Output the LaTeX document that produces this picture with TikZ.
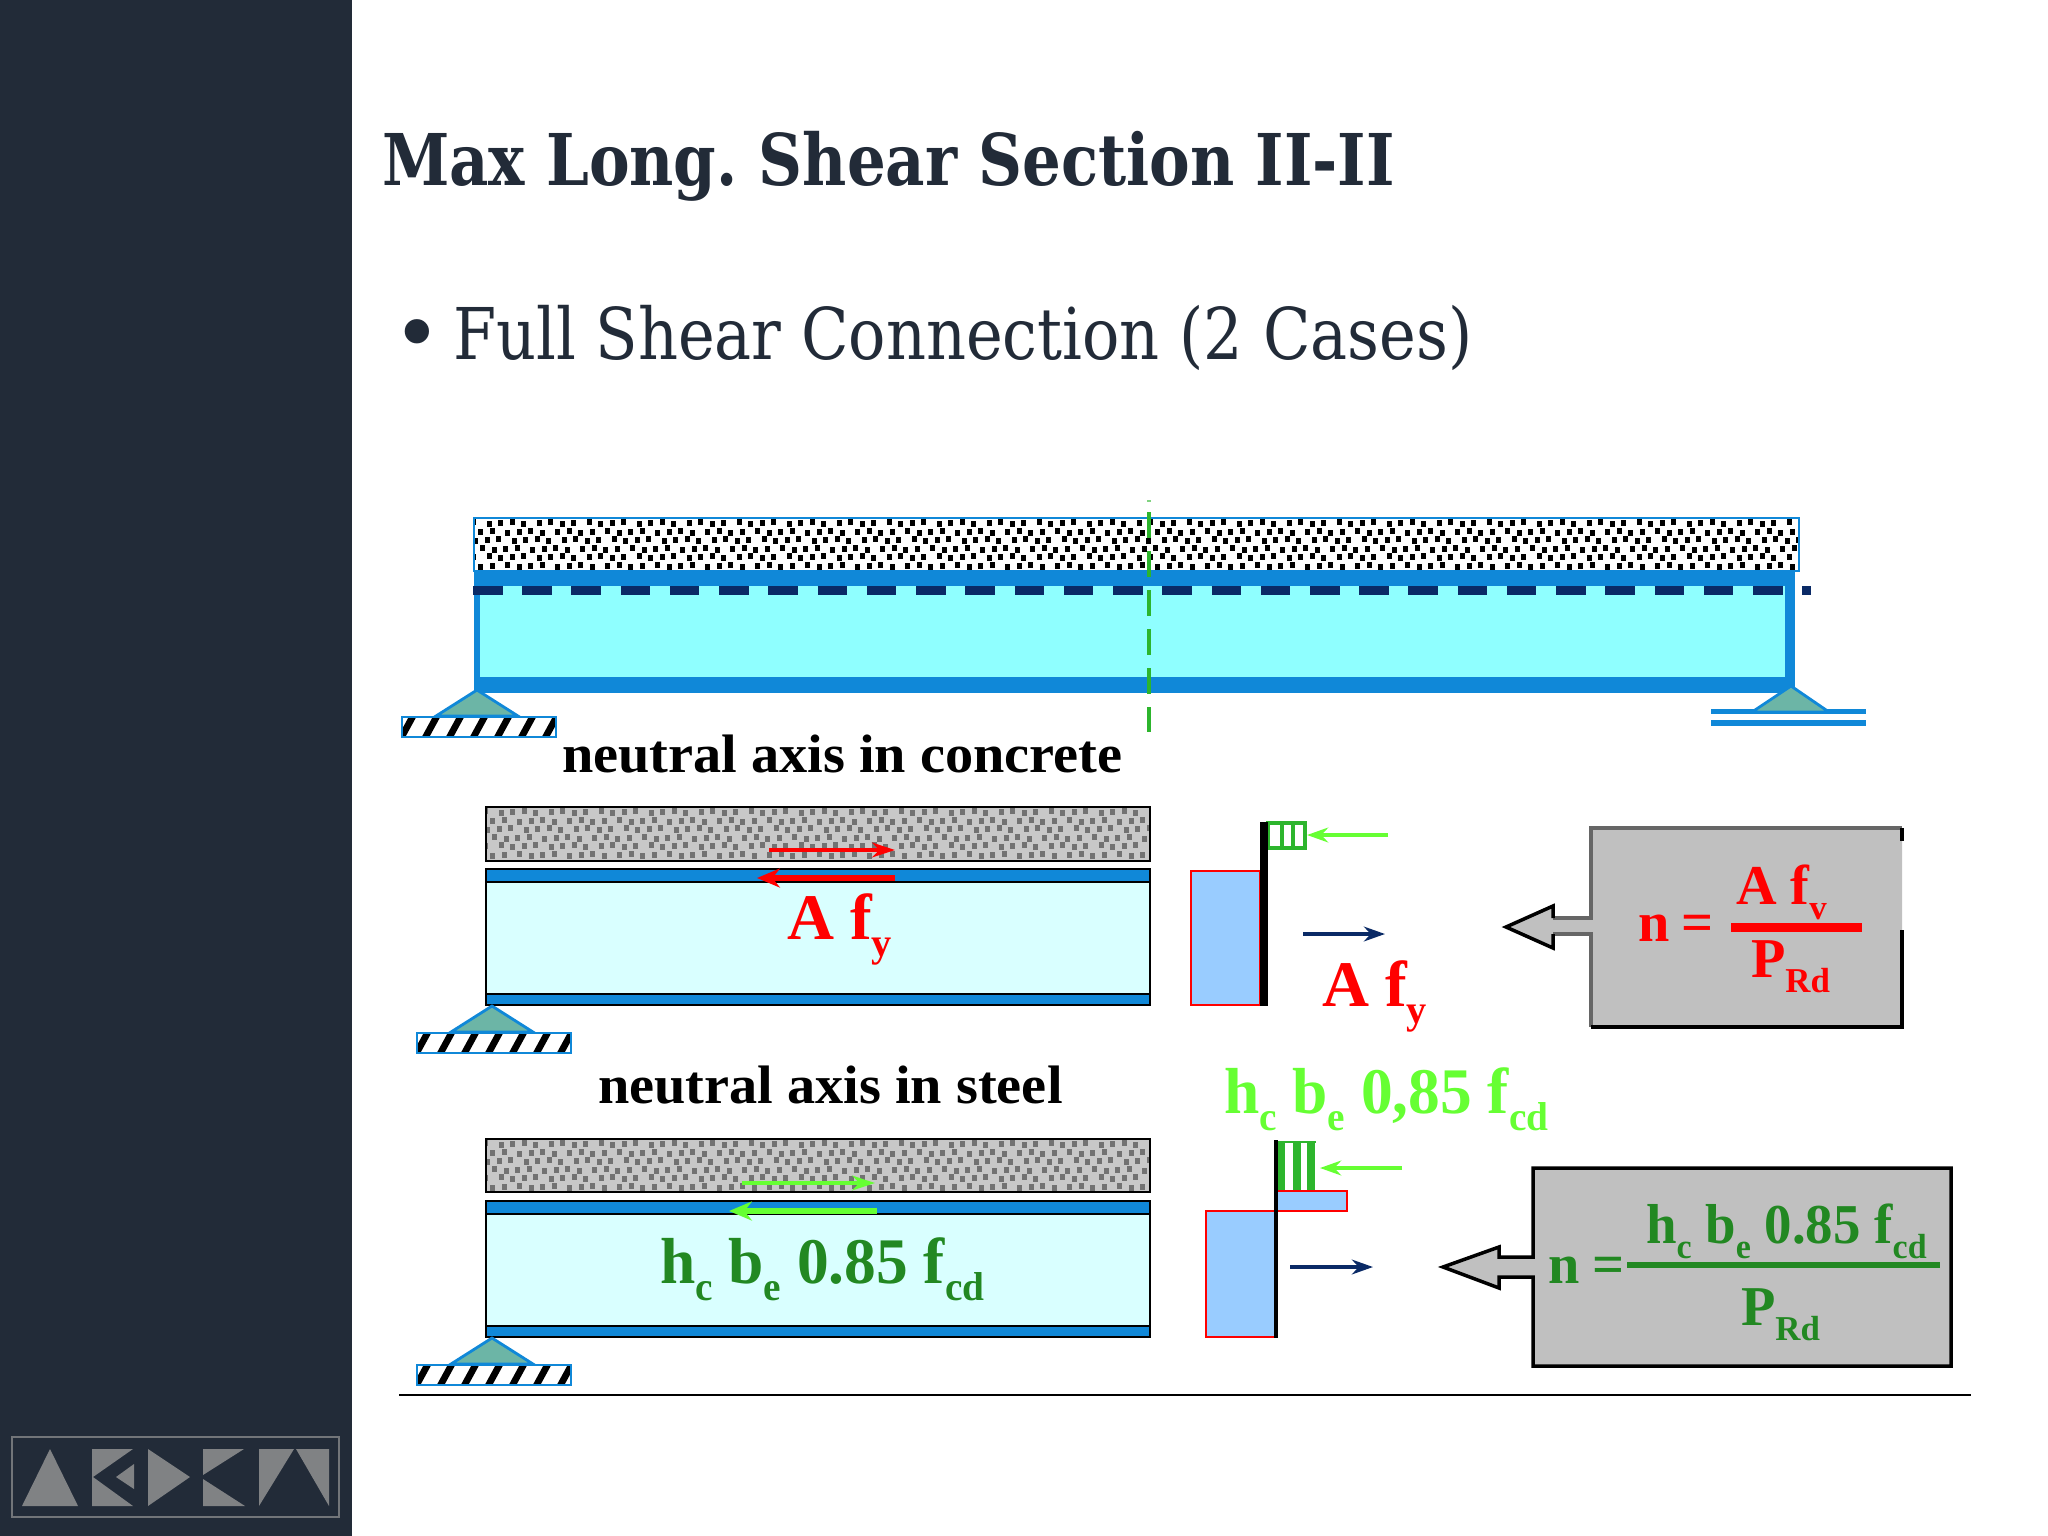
\documentclass[tikz,border=0pt]{standalone}
\usepackage{fontspec}
\usetikzlibrary{arrows.meta}
\setmainfont{Liberation Serif}
\newfontfamily\titlefont[FakeStretch=0.948]{DejaVu Serif Condensed}
\newfontfamily\casefont[FakeStretch=0.967]{DejaVu Serif Condensed}
\newfontfamily\capfont[FakeStretch=1.04]{Liberation Serif}
\newfontfamily\condfont[FakeStretch=0.975]{Liberation Serif}
\frenchspacing
\definecolor{sidebar}{HTML}{222B38}
\definecolor{logogrey}{HTML}{808284}
\definecolor{steelblue}{HTML}{1088D8}
\definecolor{webcyan}{HTML}{8FFFFF}
\definecolor{palecyan}{HTML}{D9FFFF}
\definecolor{stressblue}{HTML}{99CCFF}
\definecolor{supportgreen}{HTML}{6CB5A6}
\definecolor{navy}{HTML}{0A2A66}
\definecolor{limegreen}{HTML}{66FF33}
\definecolor{stripegreen}{HTML}{2DB52D}
\definecolor{darkgreen}{HTML}{228822}
\definecolor{boxgrey}{HTML}{C0C0C0}
\definecolor{slabgrey}{HTML}{C8C8C8}
\definecolor{dotgrey}{HTML}{727272}
\newcommand{\sbs}[1]{\raisebox{-0.27em}{\scalebox{0.62}{#1}}}
\newcommand{\concrete}[6]{%
  \fill[#5] (#1,#2) rectangle (#3,#4);
  \begin{scope}
    \clip (#1,#2) rectangle (#3,#4);
    \pgfmathtruncatemacro{\ncol}{(#3-#1)/12.5+1}
    \foreach \row in {0,...,5} {
      \foreach \col in {0,...,\ncol} {
        \pgfmathsetmacro{\dotx}{#1+\col*12.5+mod(\row,2)*6+mod(\col*3+\row*5,4)-3}
        \pgfmathsetmacro{\doty}{#2+2+\row*8.6+mod(\col*2+\row,3)-1}
        \fill[#6] (\dotx,\doty) rectangle +(5,6);
      }
    }
  \end{scope}
}
\newcommand{\hatchsupport}[2]{%
  \filldraw[support] (#1,#2) -- ({#1+41},{#2+26}) -- ({#1-41},{#2+26}) -- cycle;
  \begin{scope}
    \clip ({#1-75},{#2+27}) rectangle ({#1+79},{#2+47});
    \foreach \k in {0,...,6} {
      \draw[black,line width=1.9pt] ({#1-76+\k*24},{#2+48}) -- ({#1-64+\k*24},{#2+26});
    }
  \end{scope}
  \draw[steelblue,line width=0.8pt] ({#1-75},{#2+27}) rectangle ({#1+79},{#2+47});
}
\tikzset{
  lbl/.style={anchor=base west,inner sep=0pt,outer sep=0pt},
  support/.style={fill=supportgreen,draw=steelblue,line width=0.8pt},
  steelpart/.style={fill=steelblue,draw=black,line width=0.8pt},
  stressbox/.style={fill=stressblue,draw=red,line width=0.6pt},
  bluearrow/.style={-{Stealth[length=6pt,width=4.2pt]},navy,line width=1.1pt},
  limearrow/.style={-{Stealth[length=6pt,width=4.2pt]},limegreen,line width=1.1pt},
  topshear/.style={-{Stealth[length=6.5pt,width=4.2pt]},line width=1.2pt},
  botshear/.style={-{Stealth[length=6.5pt,width=5.4pt]},line width=1.7pt},
  titletext/.style={lbl,font=\titlefont\bfseries\fontsize{20.3pt}{24pt}\selectfont,text=sidebar},
  bodytext/.style={lbl,font=\casefont\fontsize{20.3pt}{24pt}\selectfont,text=sidebar},
  captext/.style={lbl,font=\capfont\bfseries\fontsize{15.4pt}{18pt}\selectfont},
  bigtext/.style={lbl,font=\bfseries\fontsize{18.5pt}{22pt}\selectfont},
  condtext/.style={lbl,font=\condfont\bfseries\fontsize{18.5pt}{22pt}\selectfont},
  boxtext/.style={lbl,font=\bfseries\fontsize{16pt}{19pt}\selectfont},
  boxcond/.style={lbl,font=\condfont\bfseries\fontsize{16pt}{19pt}\selectfont}
}
\begin{document}
\begin{tikzpicture}[x=0.01cm,y=-0.01cm]
    \useasboundingbox (0,0) rectangle (2048,1536);
    %% Sidebar
    \fill[sidebar] (0,0) rectangle (352,1536);
    \draw[logogrey!85!sidebar,line width=0.8pt] (12,1437) rectangle (339,1517);
    \fill[logogrey] (22,1506) -- (50,1449) -- (78,1506) -- cycle;
    \fill[logogrey] (92,1449) -- (133,1449) -- (93,1477) -- (133,1506) -- (92,1506) -- cycle;
    \fill[logogrey] (116,1477) -- (134,1464) -- (134,1489) -- cycle;
    \fill[logogrey] (148,1449) -- (190,1477) -- (148,1506) -- cycle;
    \fill[logogrey] (203,1449) -- (244,1449) -- (203,1475) -- cycle;
    \fill[logogrey] (203,1479) -- (245,1506) -- (203,1506) -- cycle;
    \fill[logogrey] (259,1449) -- (294,1449) -- (259,1506) -- cycle;
    \fill[logogrey] (296,1449) -- (329,1449) -- (329,1506) -- cycle;
    %% Heading
    \node[titletext] (heading) at (382,185) {Max Long. Shear Section II-II};
    \node[lbl,text=sidebar,font=\fontsize{29pt}{30pt}\selectfont] (bullet) at (399,365) {•};
    \node[bodytext] (case) at (453,359) {Full Shear Connection (2 Cases)};
    %% Full beam
    \concrete{474}{518}{1799}{571}{white}{black}
    \draw[steelblue,line width=0.8pt] (474,518) rectangle (1799,571);
    \fill[webcyan] (474,571) rectangle (1795,693);
    \fill[steelblue] (474,571) rectangle (1795,586);
    \fill[steelblue] (474,677) rectangle (1795,693);
    \fill[steelblue] (474,586) rectangle (480,677);
    \fill[steelblue] (1785,586) rectangle (1795,677);
    \coordinate (dashL) at (473,590.5);
    \coordinate (dashR) at (1811,590.5);
    \draw[navy,line width=2.6pt,dash pattern=on 8.4pt off 5.6pt] (dashL) -- (dashR);
    \coordinate (cutT) at (1149,512);
    \coordinate (cutB) at (1149,732);
    \coordinate (cutTick) at (1149,500);
    \draw[stripegreen!60,line width=1.2pt] (cutTick) -- +(0,1.5);
    \draw[stripegreen,line width=1.2pt,dash pattern=on 7.4pt off 3.7pt] (cutT) -- (cutB);
    \hatchsupport{477}{690}
    \fill[steelblue] (1711,709) rectangle (1866,714);
    \fill[steelblue] (1711,720) rectangle (1866,726);
    \filldraw[support] (1791,686) -- (1829,712) -- (1752,712) -- cycle;
    \node[captext] (caseA) at (562,772) {neutral axis in concrete};
    %% Concrete case
    \concrete{486}{807}{1150}{861}{slabgrey}{dotgrey}
    \draw[black,line width=0.8pt] (486,807) rectangle (1150,861);
    \draw[steelpart] (486,869) rectangle (1150,882);
    \filldraw[fill=palecyan,draw=black,line width=0.8pt] (486,882) rectangle (1150,994);
    \draw[steelpart] (486,994) rectangle (1150,1005);
    \coordinate (shearAtopL) at (769,850);
    \coordinate (shearAtopR) at (895,850);
    \coordinate (shearAbotL) at (757,878);
    \coordinate (shearAbotR) at (895,878);
    \draw[topshear,red] (shearAtopL) -- (shearAtopR);
    \draw[botshear,red] (shearAbotR) -- (shearAbotL);
    \node[bigtext,text=red] (forceA) at (787,939) {A f\sbs{y}};
    \hatchsupport{492}{1006}
    %% Concrete case stress
    \filldraw[stressbox] (1191,871) rectangle (1260,1005);
    \filldraw[fill=white,draw=stripegreen,line width=1pt] (1268,823) rectangle (1305,848);
    \foreach \k in {1282,1293} {
      \draw[stripegreen,line width=1pt] (\k,823) -- (\k,848);
    }
    \fill[black] (1260,822) rectangle (1268,1006);
    \coordinate (stressAcR) at (1388,835);
    \coordinate (stressAcL) at (1307,835);
    \draw[limearrow] (stressAcR) -- (stressAcL);
    \coordinate (stressAtL) at (1303,934);
    \coordinate (stressAtR) at (1385,934);
    \draw[bluearrow] (stressAtL) -- (stressAtR);
    \node[bigtext,text=red] (forceAb) at (1322,1006) {A f\sbs{y}};
    %% Concrete case box
    \fill[boxgrey] (1591,828) -- (1902,828) -- (1902,1027) -- (1591,1027) -- (1591,934) -- (1553,934) -- (1553,948) -- (1506,927) -- (1553,906) -- (1553,918) -- (1591,918) -- cycle;
    \draw[black!60,line width=1pt] (1553,918) -- (1591,918) -- (1591,828) -- (1902,828);
    \draw[black!60,line width=1pt] (1553,934) -- (1591,934) -- (1591,1027);
    \draw[black,line width=1pt] (1902,828) -- (1902,841);
    \draw[black,line width=1pt] (1902,930) -- (1902,1027) -- (1591,1027);
    \draw[black,line width=1pt] (1553,918) -- (1553,906) -- (1506,927) -- (1553,948) -- (1553,934);
    \fill[red] (1731,923) rectangle (1862,932);
    \node[boxtext,text=red] (nA) at (1638,941) {n};
    \node[boxtext,text=red] (eqA) at (1681,941) {=};
    \node[boxtext,text=red] (numA) at (1736,904) {A f\sbs{v}};
    \node[boxtext,text=red] (denA) at (1751,977) {P\sbs{Rd}};
    %% Steel case
    \node[captext] (caseB) at (598,1103) {neutral axis in steel};
    \concrete{486}{1139}{1150}{1192}{slabgrey}{dotgrey}
    \draw[black,line width=0.8pt] (486,1139) rectangle (1150,1192);
    \draw[steelpart] (486,1201) rectangle (1150,1214);
    \filldraw[fill=palecyan,draw=black,line width=0.8pt] (486,1214) rectangle (1150,1326);
    \draw[steelpart] (486,1326) rectangle (1150,1337);
    \coordinate (shearBtopL) at (742,1183);
    \coordinate (shearBtopR) at (875,1183);
    \coordinate (shearBbotL) at (729,1211);
    \coordinate (shearBbotR) at (877,1211);
    \draw[topshear,limegreen] (shearBtopL) -- (shearBtopR);
    \draw[botshear,limegreen] (shearBbotR) -- (shearBbotL);
    \node[condtext,text=darkgreen] (forceB) at (660,1283) {h\sbs{c} b\sbs{e} 0.85 f\sbs{cd}};
    \hatchsupport{492}{1338}
    %% Steel case stress
    \node[condtext,text=limegreen] (forceBb) at (1224,1113) {h\sbs{c} b\sbs{e} 0,85 f\sbs{cd}};
    \foreach \k in {1281,1297,1311} {
      \draw[stripegreen,line width=2.2pt] (\k,1142) -- (\k,1191);
    }
    \draw[stripegreen,line width=0.6pt] (1277,1142) -- (1316,1142);
    \filldraw[stressbox] (1277,1191) rectangle (1347,1211);
    \filldraw[stressbox] (1206,1211) rectangle (1275,1337);
    \fill[black] (1274,1140) rectangle (1278,1338);
    \coordinate (stressBcR) at (1402,1168);
    \coordinate (stressBcL) at (1320,1168);
    \draw[limearrow] (stressBcR) -- (stressBcL);
    \coordinate (stressBtL) at (1290,1267);
    \coordinate (stressBtR) at (1373,1267);
    \draw[bluearrow] (stressBtL) -- (stressBtR);
    %% Steel case box
    \filldraw[fill=boxgrey,draw=black,line width=1pt] (1533,1168) -- (1951,1168) -- (1951,1366) -- (1533,1366) -- (1533,1277) -- (1499,1277) -- (1499,1288) -- (1443,1267) -- (1499,1247) -- (1499,1257) -- (1533,1257) -- cycle;
    \fill[darkgreen] (1627,1262) rectangle (1940,1268);
    \node[boxtext,text=darkgreen] (nB) at (1548,1283) {n};
    \node[boxtext,text=darkgreen] (eqB) at (1592,1283) {=};
    \node[boxcond,text=darkgreen] (numB) at (1646,1243) {h\sbs{c} b\sbs{e} 0.85 f\sbs{cd}};
    \node[boxtext,text=darkgreen] (denB) at (1741,1325) {P\sbs{Rd}};
    %% Footer rule
    \coordinate (ruleL) at (399,1395);
    \coordinate (ruleR) at (1971,1395);
    \draw[black,line width=0.8pt] (ruleL) -- (ruleR);
\end{tikzpicture}
\end{document}
